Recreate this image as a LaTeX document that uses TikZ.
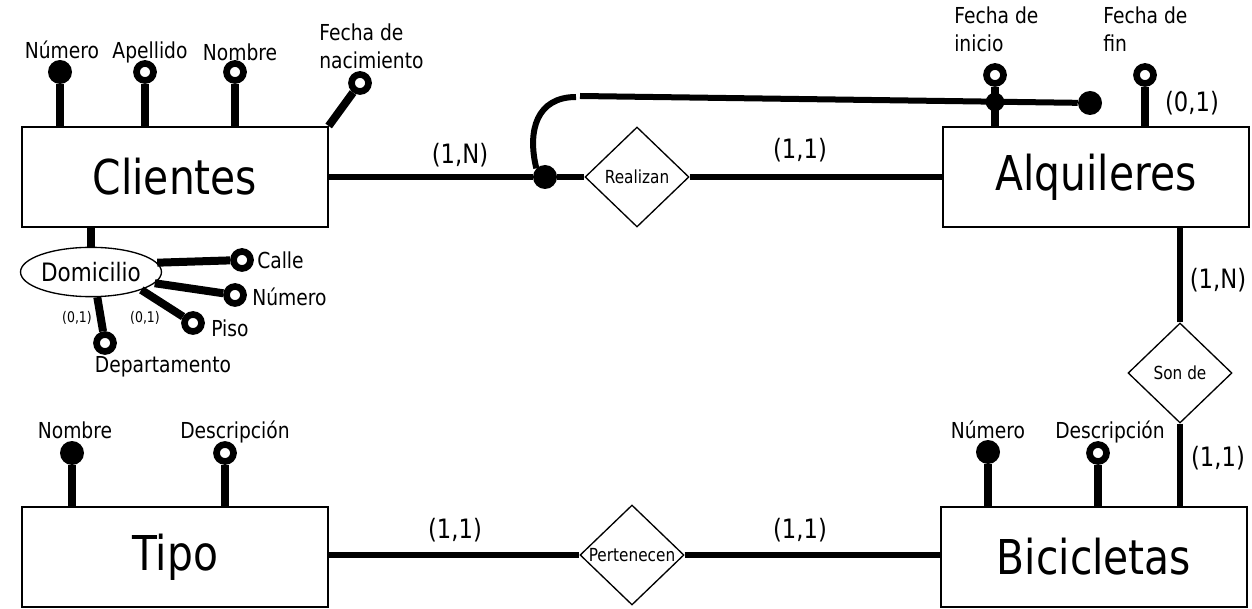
\documentclass[tikz,border=0pt]{standalone}
\usepackage{fontspec}
\setmainfont{DejaVu Sans}[FakeStretch=0.85]
\usetikzlibrary{shapes.geometric}

\tikzset{
  entity/.style={draw, rectangle, line width=1.5pt, minimum width=229pt, minimum height=75pt, inner sep=0pt, font=\fontsize{36}{40}\selectfont},
  relation/.style={draw, diamond, line width=1pt, minimum width=78pt, minimum height=75pt, inner sep=0pt, font=\fontsize{13.5}{15}\selectfont},
  keydot/.style={circle, fill=black, minimum size=18pt, inner sep=0pt},
  attrdot/.style={circle, draw, fill=white, line width=5pt, minimum size=12.75pt, inner sep=0pt},
  joindot/.style={circle, fill=black, minimum size=14pt, inner sep=0pt},
  stem/.style={line width=6pt},
  link/.style={line width=4.5pt},
  attrtext/.style={font=\fontsize{16.5}{21}\selectfont, inner sep=0pt, align=left},
  cardtext/.style={font=\fontsize{20}{24}\selectfont, inner sep=0pt},
  smallcard/.style={font=\fontsize{11}{13}\selectfont, inner sep=0pt},
}

\begin{document}
\begin{tikzpicture}[x=0.75pt, y=-0.75pt]
    \useasboundingbox (0,0) rectangle (1252,609);

    % Entities
    \node[entity] (clientes) at (175,177) {Clientes};
    \node[entity] (alquileres) at (1096,177) {Alquileres};
    \node[entity] (tipo) at (175,557) {Tipo};
    \node[entity] (bicicletas) at (1094,557) {Bicicletas};

    % Relations
    \node[relation] (realizan) at (637,177) {Realizan};
    \node[relation] (sonde) at (1180,373) {Son de};
    \node[relation] (pertenecen) at (632,555) {Pertenecen};

    % Clientes attributes
    \node[keydot] (numcli) at (60,72) {};
    \node[attrdot] (apellido) at (145,72) {};
    \node[attrdot] (nomcli) at (235,72) {};
    \node[attrdot] (fnac) at (360,83) {};
    \draw[stem] (numcli) -- (numcli |- clientes.north);
    \draw[stem] (apellido) -- (apellido |- clientes.north);
    \draw[stem] (nomcli) -- (nomcli |- clientes.north);
    \draw[stem] (clientes.north east) -- (fnac);
    \node[attrtext] (lnumcli) at (62,50) {Número};
    \node[attrtext] (lapellido) at (150,52) {Apellido};
    \node[attrtext] (lnomcli) at (240,52) {Nombre};
    \node[attrtext, anchor=west] (lfnac) at (319,46) {Fecha de\\nacimiento};

    % Domicilio
    \node[draw, ellipse, line width=1pt, minimum width=102pt, minimum height=37pt, inner sep=0pt, font=\fontsize{19}{22}\selectfont] (domicilio) at (91,272) {Domicilio};
    \node[attrdot] (calle) at (242,260) {};
    \node[attrdot] (numdom) at (235,295) {};
    \node[attrdot] (piso) at (193,323) {};
    \node[attrdot] (depto) at (105,343) {};
    \draw[stem] (domicilio.north) -- (domicilio.north |- clientes.south);
    \draw[stem] (domicilio.8) -- (calle);
    \draw[stem] (domicilio.-10) -- (numdom);
    \draw[stem] (domicilio.south east) -- (piso);
    \draw[stem] (domicilio.-76) -- (depto);
    \node[attrtext, anchor=west] (lcalle) at (257,260) {Calle};
    \node[attrtext, anchor=west] (lnumdom) at (252,297) {Número};
    \node[attrtext, anchor=west] (lpiso) at (211,328) {Piso};
    \node[attrtext] (ldepto) at (163,367) {Departamento};
    \node[smallcard] (cdepto) at (77,318) {(0,1)};
    \node[smallcard] (cpiso) at (145,318) {(0,1)};

    % Alquileres attributes
    \node[attrdot] (finicio) at (995,75) {};
    \node[attrdot] (ffin) at (1145,75) {};
    \draw[stem] (finicio) -- (finicio |- alquileres.north);
    \draw[stem] (ffin) -- (ffin |- alquileres.north);
    \node[attrtext, anchor=west] (lfinicio) at (954,29) {Fecha de\\inicio};
    \node[attrtext, anchor=west] (lffin) at (1103,29) {Fecha de\\fin};
    \node[cardtext] (cffin) at (1192,103) {(0,1)};

    % Realizan
    \node[keydot] (dotR) at (545,177) {};
    \node[keydot] (dotF) at (1090,103) {};
    \node[joindot] (dotJ) at (995,102) {};
    \coordinate (bendR) at (576,97);
    \coordinate (bendS) at (580,96);
    \draw[link] (clientes) -- (dotR) -- (realizan.west);
    \draw[link] (realizan.east) -- (alquileres.west);
    \draw[link] (dotR.north west) .. controls (527,130) and (537,97) .. (bendR);
    \draw[link] (bendS) -- (dotF);
    \node[cardtext] (crcli) at (460,155) {(1,N)};
    \node[cardtext] (cralq) at (800,150) {(1,1)};

    % Son de
    \draw[link] (sonde.north) -- (sonde.north |- alquileres.south);
    \draw[link] (sonde.south) -- (sonde.south |- bicicletas.north);
    \node[cardtext] (csalq) at (1218,280) {(1,N)};
    \node[cardtext] (csbic) at (1218,458) {(1,1)};

    % Bicicletas attributes
    \node[keydot] (numbici) at (988,452) {};
    \node[attrdot] (descbici) at (1098,453) {};
    \draw[stem] (numbici) -- (numbici |- bicicletas.north);
    \draw[stem] (descbici) -- (descbici |- bicicletas.north);
    \node[attrtext] (lnumbici) at (988,430) {Número};
    \node[attrtext] (ldescbici) at (1110,432) {Descripción};

    % Tipo attributes
    \node[keydot] (nomtipo) at (72,453) {};
    \node[attrdot] (desctipo) at (225,453) {};
    \draw[stem] (nomtipo) -- (nomtipo |- tipo.north);
    \draw[stem] (desctipo) -- (desctipo |- tipo.north);
    \node[attrtext] (lnomtipo) at (75,430) {Nombre};
    \node[attrtext] (ldesctipo) at (235,432) {Descripción};

    % Pertenecen
    \draw[link] (tipo.east |- pertenecen) -- (pertenecen.west);
    \draw[link] (pertenecen.east) -- (bicicletas.west |- pertenecen);
    \node[cardtext] (cptipo) at (455,530) {(1,1)};
    \node[cardtext] (cpbic) at (800,530) {(1,1)};
\end{tikzpicture}
\end{document}
